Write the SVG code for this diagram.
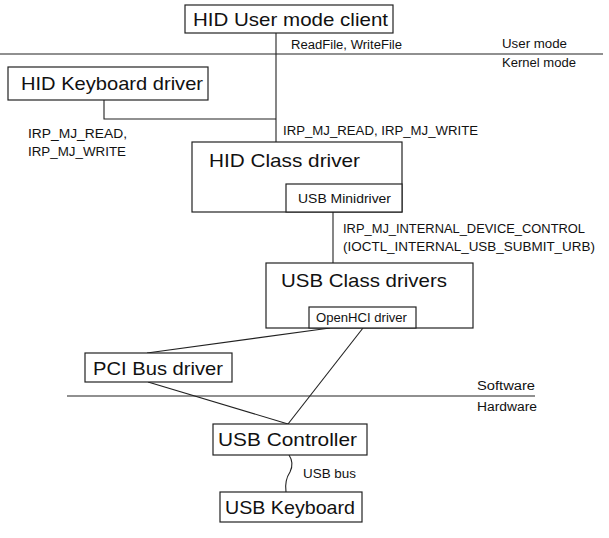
<svg xmlns="http://www.w3.org/2000/svg" width="609" height="538" viewBox="0 0 609 538">
<style>
.box{fill:#fff;stroke:#222;stroke-width:1.2}
.ln{fill:none;stroke:#222;stroke-width:1.1}
.big{font-family:"Liberation Sans","DejaVu Sans",sans-serif;font-size:19px;fill:#111}
.sm{font-family:"Liberation Sans","DejaVu Sans",sans-serif;font-size:12px;fill:#111}
</style>
<rect width="609" height="538" fill="#fff"/>
<g id="connectors">
<line class="ln" x1="276" y1="33" x2="276" y2="142"/>
<polyline class="ln" points="104,100 104,119 276,119"/>
<line class="ln" x1="333" y1="212" x2="333" y2="263"/>
<line class="ln" x1="330" y1="328" x2="147" y2="353"/>
<line class="ln" x1="363" y1="328" x2="288" y2="424"/>
<line class="ln" x1="148" y1="382" x2="288" y2="424"/>
<path class="ln" d="M289,455 C293,461 293,466 290,472 C286,478 285,485 286,492"/>
</g>
<g id="boundaries">
<line class="ln" x1="0" y1="54" x2="603" y2="54"/>
<line class="ln" x1="67" y1="396" x2="535" y2="396"/>
<text class="sm" x="502" y="48" textLength="65" lengthAdjust="spacingAndGlyphs">User mode</text>
<text class="sm" x="502" y="67" textLength="74" lengthAdjust="spacingAndGlyphs">Kernel mode</text>
<text class="sm" x="477" y="390" textLength="58" lengthAdjust="spacingAndGlyphs">Software</text>
<text class="sm" x="477" y="411" textLength="60" lengthAdjust="spacingAndGlyphs">Hardware</text>
</g>
<g id="labels">
<text class="sm" x="291" y="49" textLength="111" lengthAdjust="spacingAndGlyphs">ReadFile, WriteFile</text>
<text class="sm" x="28" y="138" textLength="99" lengthAdjust="spacingAndGlyphs">IRP_MJ_READ,</text>
<text class="sm" x="28" y="156" textLength="98" lengthAdjust="spacingAndGlyphs">IRP_MJ_WRITE</text>
<text class="sm" x="283" y="135" textLength="195" lengthAdjust="spacingAndGlyphs">IRP_MJ_READ, IRP_MJ_WRITE</text>
<text class="sm" x="343" y="233" textLength="242" lengthAdjust="spacingAndGlyphs">IRP_MJ_INTERNAL_DEVICE_CONTROL</text>
<text class="sm" x="343" y="251" textLength="252" lengthAdjust="spacingAndGlyphs">(IOCTL_INTERNAL_USB_SUBMIT_URB)</text>
<text class="sm" x="303" y="478" textLength="53" lengthAdjust="spacingAndGlyphs">USB bus</text>
</g>
<g id="hid-user-mode-client">
<rect class="box" x="185" y="5" width="208" height="28"/>
<text class="big" x="193" y="26" textLength="195" lengthAdjust="spacingAndGlyphs">HID User mode client</text>
</g>
<g id="hid-keyboard-driver">
<rect class="box" x="8" y="67" width="200" height="33"/>
<text class="big" x="21" y="90" textLength="182" lengthAdjust="spacingAndGlyphs">HID Keyboard driver</text>
</g>
<g id="hid-class-driver">
<rect class="box" x="192" y="142" width="210" height="70"/>
<text class="big" x="209" y="167" textLength="151" lengthAdjust="spacingAndGlyphs">HID Class driver</text>
</g>
<g id="usb-minidriver">
<rect class="box" x="286" y="184" width="116" height="28"/>
<text class="sm" x="298" y="203" textLength="93" lengthAdjust="spacingAndGlyphs">USB Minidriver</text>
</g>
<g id="usb-class-drivers">
<rect class="box" x="266" y="263" width="207" height="65"/>
<text class="big" x="281" y="287" textLength="166" lengthAdjust="spacingAndGlyphs">USB Class drivers</text>
</g>
<g id="openhci-driver">
<rect class="box" x="309" y="307" width="107" height="21"/>
<text class="sm" x="316" y="322" textLength="91" lengthAdjust="spacingAndGlyphs">OpenHCI driver</text>
</g>
<g id="pci-bus-driver">
<rect class="box" x="85" y="353" width="147" height="29"/>
<text class="big" x="93" y="375" textLength="130" lengthAdjust="spacingAndGlyphs">PCI Bus driver</text>
</g>
<g id="usb-controller">
<rect class="box" x="213" y="424" width="154" height="31"/>
<text class="big" x="218" y="446" textLength="139" lengthAdjust="spacingAndGlyphs">USB Controller</text>
</g>
<g id="usb-keyboard">
<rect class="box" x="220" y="492" width="142" height="30"/>
<text class="big" x="225" y="514" textLength="130" lengthAdjust="spacingAndGlyphs">USB Keyboard</text>
</g>
</svg>
